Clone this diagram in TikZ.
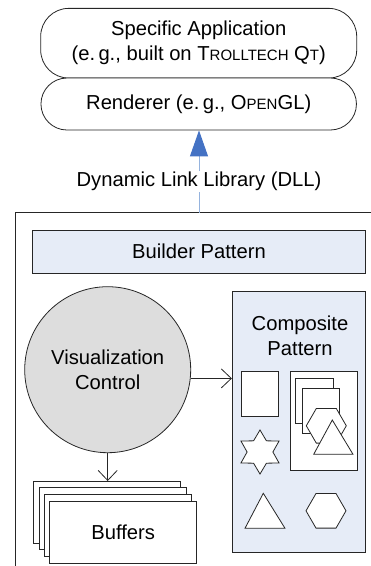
\documentclass[tikz,border=0pt]{standalone}
\usepackage{fontspec}
\setmainfont{Liberation Sans}
\usetikzlibrary{arrows.meta,shapes.geometric,calc}
\definecolor{paleblue}{HTML}{E6ECF7}
\definecolor{linkblue}{HTML}{95B3DE}
\definecolor{headblue}{HTML}{4472C4}
\definecolor{circgray}{HTML}{DDDDDD}
\newcommand\smc[1]{{\fontsize{15}{15}\selectfont #1}}
\tikzset{
  outl/.style={draw=black!85, line width=0.8pt},
  txt/.style={font=\fontsize{20.2}{25}\selectfont, align=center, text=black},
  pill/.style={outl, fill=white, txt, inner sep=0pt},
  plainbox/.style={outl, fill=white, inner sep=0pt},
  bluebox/.style={outl, fill=paleblue, inner sep=0pt},
  opentip/.style={-{Straight Barb[length=10pt,width=19pt,line width=0.8pt]}, outl},
  hexa/.style={regular polygon, regular polygon sides=6, minimum size=40pt, inner sep=0pt, outl, fill=white},
}
\begin{document}
\begin{tikzpicture}[x=1pt,y=-1pt]
\useasboundingbox (0,0) rectangle (371,566);
\begin{scope}
\clip (0,0) rectangle (371,566);
% outer frame (cropped)
\draw[outl] (15,212.7) rectangle (390,590);
\coordinate (dllbot) at (199,212.7);

% top stack
\node[pill, rounded corners=28pt, minimum width=316pt, minimum height=69.7pt] (app) at (198.7,43.2)
  {Specific Application\\(e.\,g., built on T\smc{ROLLTECH} Q\smc{T})};
\node[pill, rounded corners=26pt, minimum width=315.5pt, minimum height=52pt] (rend) at (198.7,104)
  {Renderer (e.\,g., O\smc{PEN}GL)};

% DLL link
\draw[linkblue, line width=1pt, -{Triangle[length=26pt,width=18pt,color=headblue]}] (dllbot) -- (dllbot |- rend.south);
\node[txt, fill=white, inner sep=1pt] (dll) at (199,181.7) {Dynamic Link Library (DLL)};

% builder
\node[bluebox, txt, minimum width=333.4pt, minimum height=43.3pt] (builder) at (199,251.7) {Builder Pattern};

% visualization control
\node[circle, outl, fill=circgray, txt, minimum size=166pt, inner sep=0pt] (vis) at (107.7,369.7) {Visualization\\Control};

% composite
\node[bluebox, minimum width=133.4pt, minimum height=261pt] (comp) at (299,422.2) {};
\node[txt] (comptxt) at (300,335.8) {Composite\\Pattern};

\draw[opentip] (vis.-6.6) -- (vis.-6.6 -| comp.west);

% shapes in composite
\node[plainbox, minimum width=36.8pt, minimum height=45pt] (rA) at (259.9,394.2) {};
\node[plainbox, minimum width=67.7pt, minimum height=98.3pt] (grp) at (323.85,420.85) {};
\node[plainbox, minimum width=37.7pt, minimum height=45pt] (r1) at (314.15,400.8) {};
\node[plainbox, minimum width=37.7pt, minimum height=45pt] (r2) at (320.85,410.8) {};
\node[hexa] (hx1) at (326.3,425.8) {};
\draw[outl, fill=white] (332.3,420) -- (353,454.3) -- (313.7,454.3) -- cycle;
\draw[outl, fill=white] (260,452)
  ++(90:22) \foreach \k in {1,...,11} {
    -- ($(260,452)+({90+30*\k}:{mod(\k,2)==1 ? 12.9 : 22})$)
  } -- cycle;
\draw[outl, fill=white] (263.3,493.3) -- (285,528.3) -- (245,528.3) -- cycle;
\node[hexa] (hx2) at (326,510.8) {};

% buffers
\node[plainbox, minimum width=147pt, minimum height=62pt, anchor=north west] (b1) at (33.3,481) {};
\node[plainbox, minimum width=147pt, minimum height=62pt, anchor=north west] (b2) at (39.3,487) {};
\node[plainbox, minimum width=147pt, minimum height=62pt, anchor=north west] (b3) at (44.3,494) {};
\node[plainbox, txt, minimum width=147pt, minimum height=62pt, anchor=north west] (b4) at (49.3,500.7) {Buffers};

\draw[opentip] (vis.south) -- (vis.south |- b1.north);
\end{scope}
\end{tikzpicture}
\end{document}
